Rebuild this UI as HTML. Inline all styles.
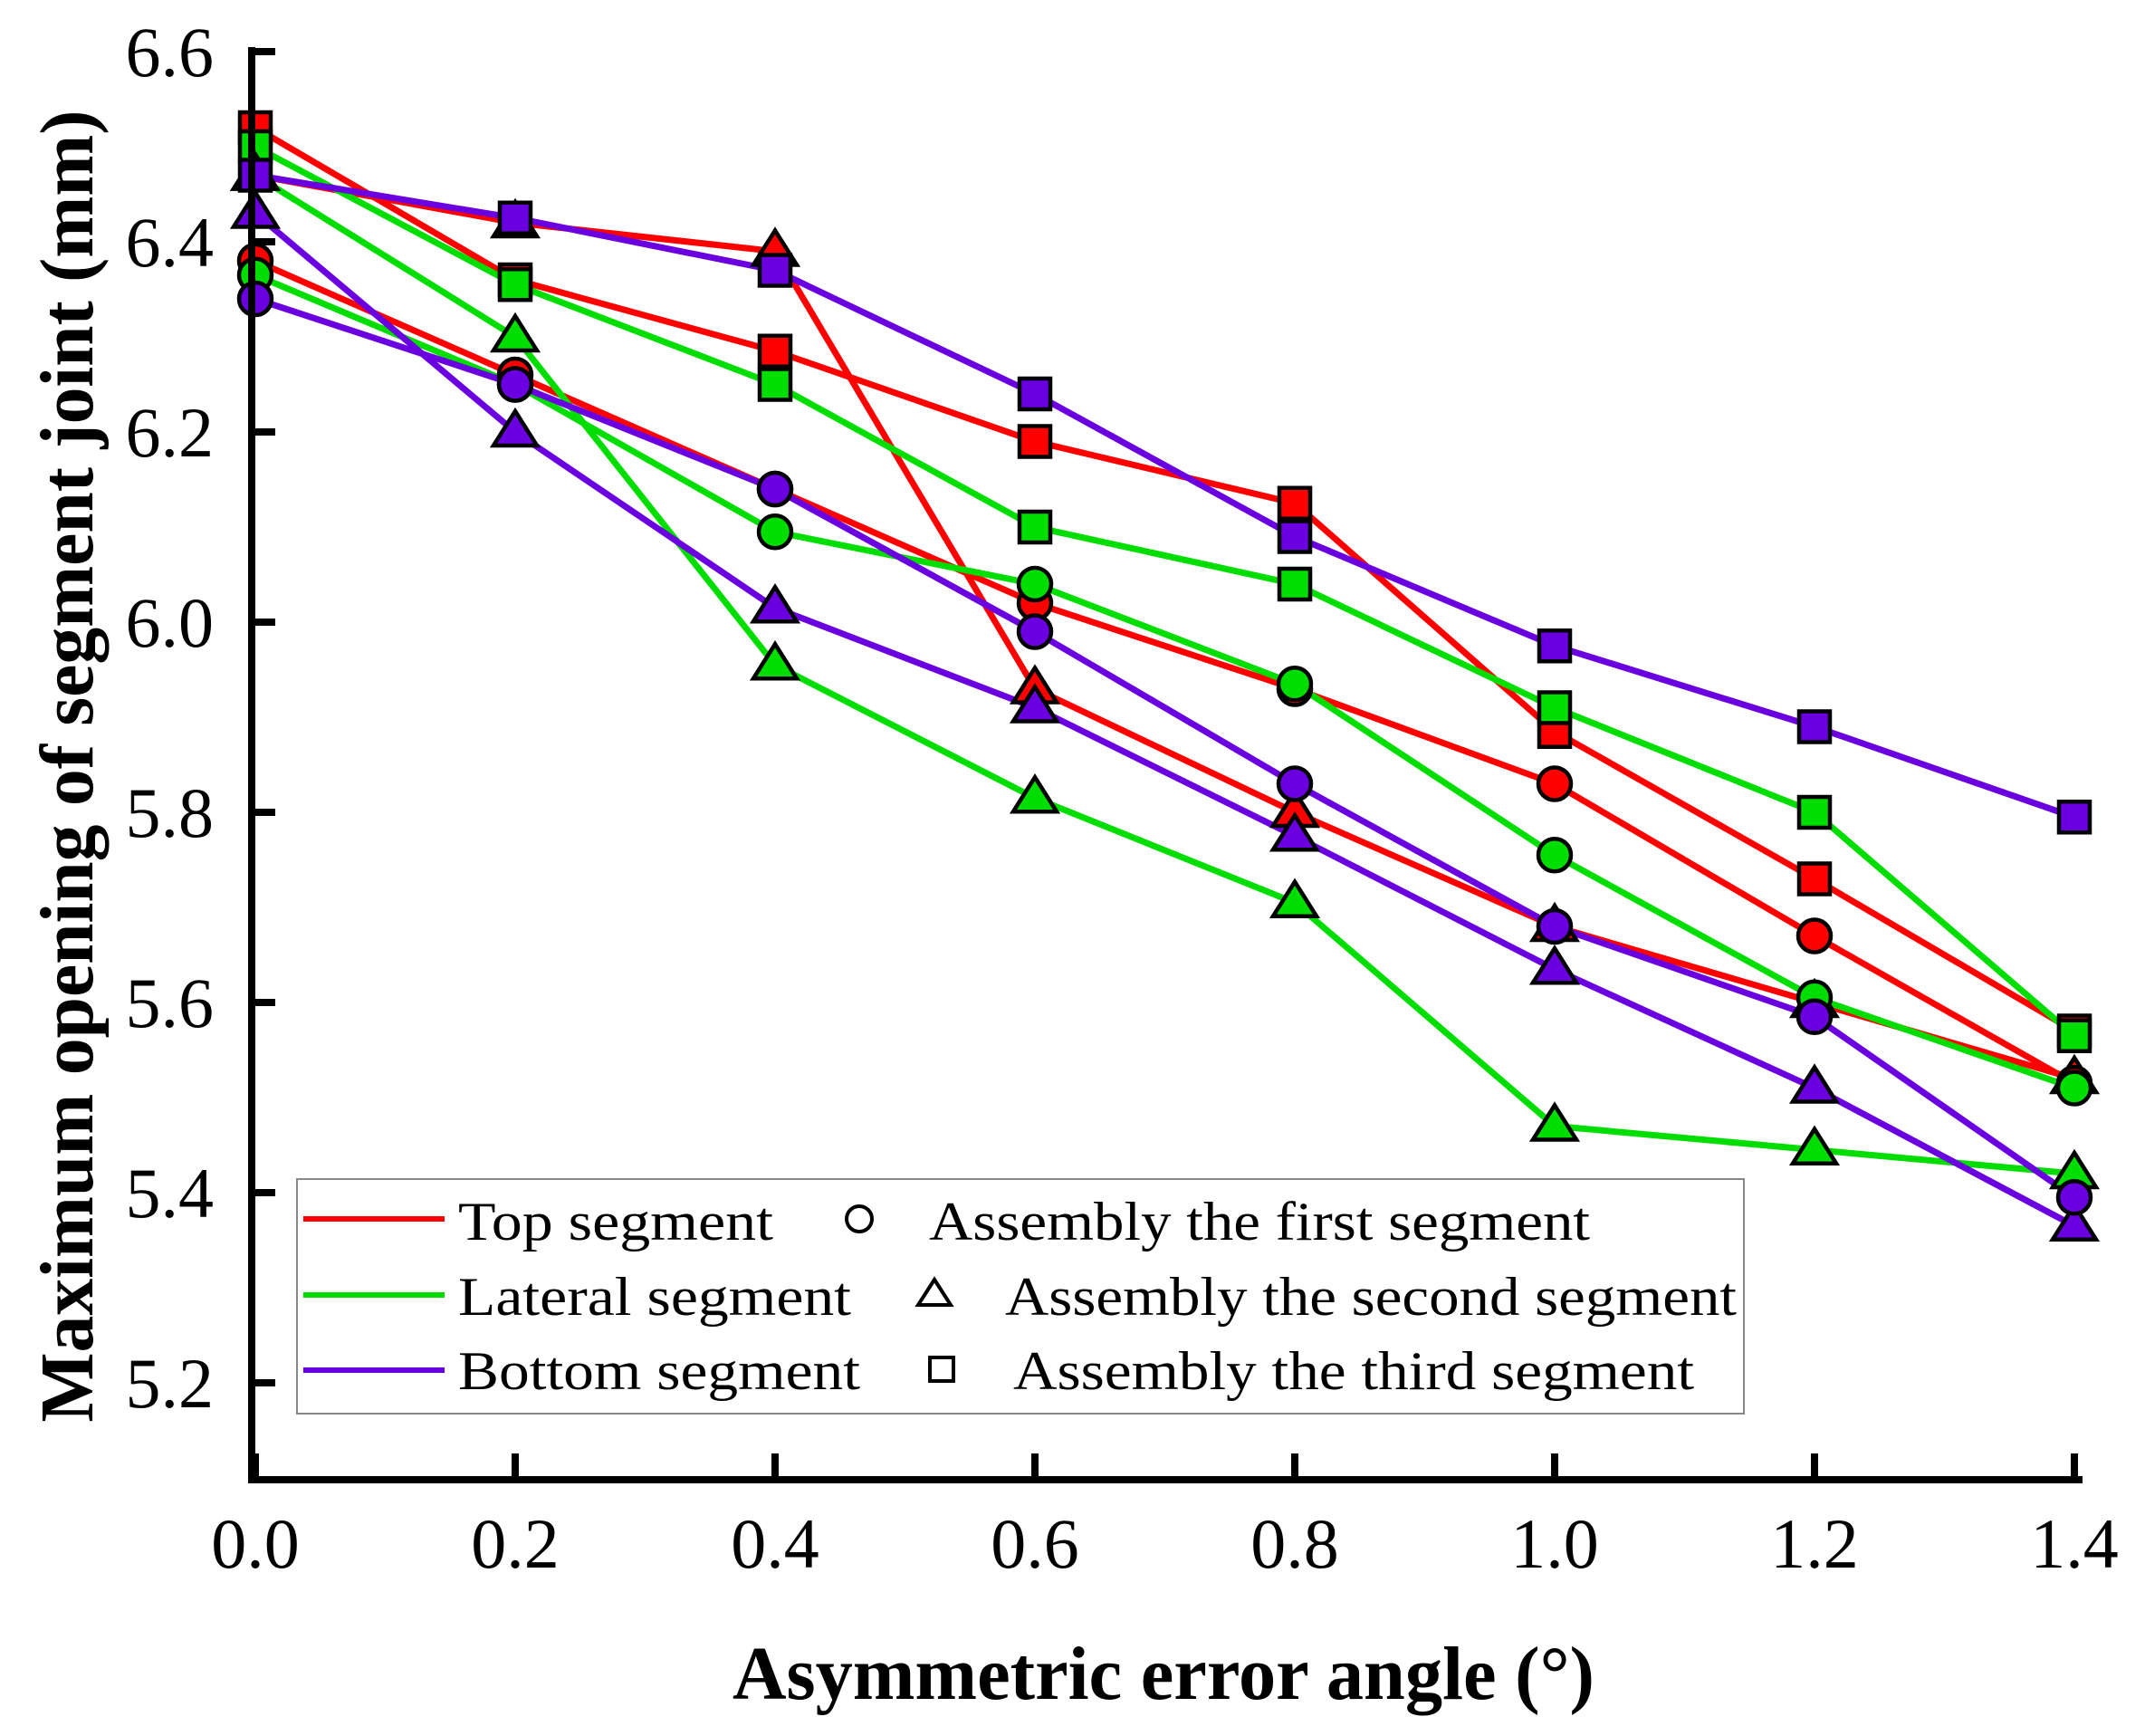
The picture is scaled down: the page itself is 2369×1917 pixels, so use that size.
<!DOCTYPE html>
<html><head><meta charset="utf-8">
<style>html,body{margin:0;padding:0;background:#fff;}svg{display:block;}</style>
</head><body>
<svg id="s" width="2369" height="1917" xmlns="http://www.w3.org/2000/svg" font-family="Liberation Serif, serif">
<rect width="2369" height="1917" fill="#fff"/>
<g id="plot"></g>
<line x1="278" y1="52" x2="278" y2="1638" stroke="#000" stroke-width="8"/>
<line x1="274" y1="1634" x2="2300" y2="1634" stroke="#000" stroke-width="8"/>
<g id="ticks"></g>
<rect x="328" y="1302" width="1598" height="259" fill="#fff" stroke="#888" stroke-width="2"/>
<line x1="335" y1="1346" x2="491" y2="1346" stroke="#f00" stroke-width="6"/>
<line x1="335" y1="1430" x2="491" y2="1430" stroke="#00dd00" stroke-width="6"/>
<line x1="335" y1="1513" x2="491" y2="1513" stroke="#6a00e0" stroke-width="6"/>
<g font-size="60" fill="#000">
<text x="506" y="1369" textLength="348" lengthAdjust="spacingAndGlyphs">Top segment</text>
<text x="506" y="1452" textLength="434" lengthAdjust="spacingAndGlyphs">Lateral segment</text>
<text x="506" y="1534" textLength="444" lengthAdjust="spacingAndGlyphs">Bottom segment</text>
<text x="1026" y="1369" textLength="730" lengthAdjust="spacingAndGlyphs">Assembly the first segment</text>
<text x="1110" y="1452" textLength="808" lengthAdjust="spacingAndGlyphs">Assembly the second segment</text>
<text x="1119" y="1534" textLength="752" lengthAdjust="spacingAndGlyphs">Assembly the third segment</text>
</g>
<circle cx="949" cy="1346" r="14" fill="none" stroke="#000" stroke-width="4"/>
<polygon points="1032,1413 1050,1441 1014,1441" fill="none" stroke="#000" stroke-width="4"/>
<rect x="1027" y="1499" width="26" height="26" fill="none" stroke="#000" stroke-width="4"/>
<text x="1285" y="1876" font-size="84" font-weight="bold" text-anchor="middle" textLength="952" lengthAdjust="spacingAndGlyphs">Asymmetric error angle (°)</text>
<text transform="translate(102,846) rotate(-90)" font-size="84" font-weight="bold" text-anchor="middle" textLength="1449" lengthAdjust="spacingAndGlyphs">Maximum opening of segment joint (mm)</text>
</svg>
<script>
const NS="http://www.w3.org/2000/svg";
const X=v=>282+1435*v, Y=v=>57+1050*(6.6-v);
const ticks=document.getElementById('ticks');
function el(p,t,a){const e=document.createElementNS(NS,t);for(const k in a)e.setAttribute(k,a[k]);p.appendChild(e);return e;}
for(let i=0;i<=7;i++){const v=5.2+0.2*i,y=Y(v);
 el(ticks,'line',{x1:278,y1:y,x2:304,y2:y,stroke:'#000','stroke-width':8});
 const t=el(ticks,'text',{x:236,y:y+27,'font-size':78,'text-anchor':'end'});t.textContent=v.toFixed(1);}
for(let i=0;i<=7;i++){const v=0.2*i,x=X(v);
 el(ticks,'line',{x1:x,y1:1634,x2:x,y2:1605,stroke:'#000','stroke-width':8});
 const t=el(ticks,'text',{x:x,y:1731,'font-size':78,'text-anchor':'middle'});t.textContent=v.toFixed(1);}
const xs=[0,0.2,0.4,0.6,0.8,1.0,1.2,1.4];
const S=[
 ['#f00','s',[6.52,6.36,6.285,6.19,6.125,5.885,5.73,5.57]],
 ['#f00','t',[6.47,6.42,6.39,5.93,5.80,5.68,5.60,5.52]],
 ['#f00','c',[6.38,6.26,6.14,6.02,5.93,5.83,5.67,5.515]],
 ['#00dd00','s',[6.50,6.355,6.25,6.10,6.04,5.91,5.80,5.565]],
 ['#00dd00','t',[6.47,6.30,5.955,5.815,5.705,5.47,5.445,5.42]],
 ['#00dd00','c',[6.365,6.25,6.095,6.04,5.935,5.755,5.605,5.51]],
 ['#6a00e0','s',[6.47,6.425,6.37,6.24,6.09,5.975,5.89,5.795]],
 ['#6a00e0','t',[6.43,6.20,6.015,5.91,5.775,5.635,5.51,5.365]],
 ['#6a00e0','c',[6.34,6.25,6.14,5.99,5.83,5.68,5.585,5.395]]];
const g=document.getElementById('plot');
S.forEach(([c,m,d])=>{el(g,'polyline',{points:d.map((v,i)=>X(xs[i])+','+Y(v)).join(' '),fill:'none',stroke:c,'stroke-width':7});});
S.forEach(([c,m,d])=>{d.forEach((v,i)=>{const x=X(xs[i]),y=Y(v);const a={fill:c,stroke:'#000','stroke-width':4.5};
 if(m=='s')el(g,'rect',Object.assign({x:x-17,y:y-17,width:34,height:34},a));
 else if(m=='c')el(g,'circle',Object.assign({cx:x,cy:y,r:18},a));
 else el(g,'polygon',Object.assign({points:`${x},${y-23} ${x+24},${y+15} ${x-24},${y+15}`},a));});});
</script>
</body></html>
